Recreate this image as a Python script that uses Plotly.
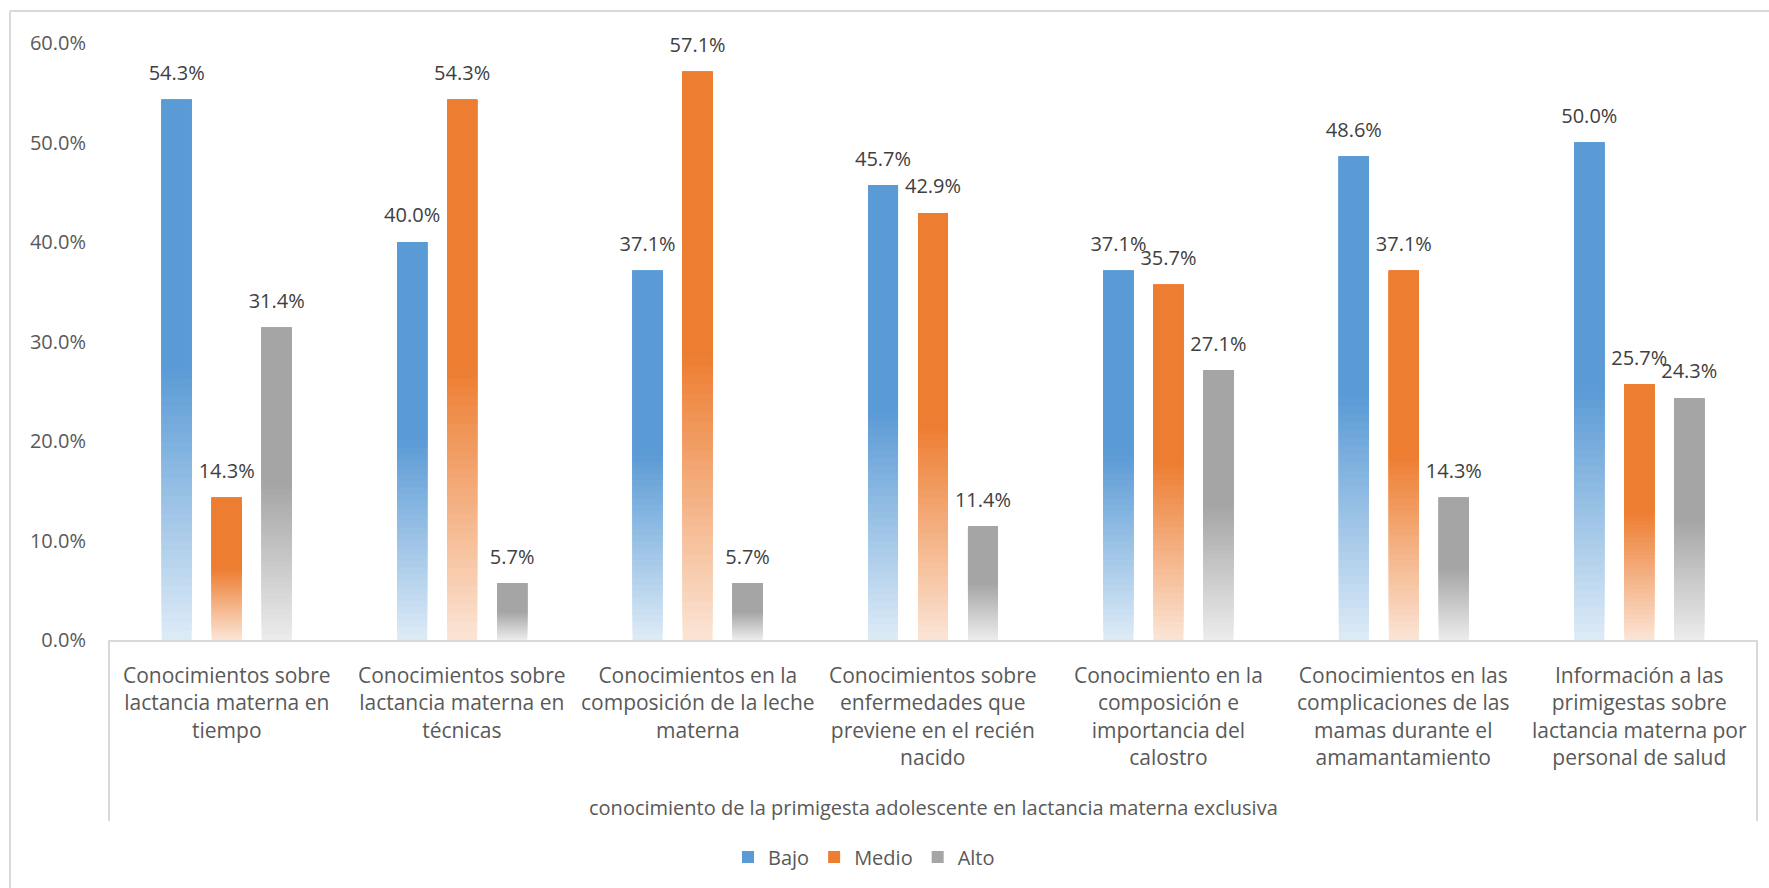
import plotly.graph_objects as go

categories = [
    "Conocimientos sobre lactancia materna en tiempo",
    "Conocimientos sobre lactancia materna en técnicas",
    "Conocimientos en la composición de la leche materna",
    "Conocimientos sobre enfermedades que previene en el recién nacido",
    "Conocimiento en la composición e importancia del calostro",
    "Conocimientos en las complicaciones de las mamas durante el amamantamiento",
    "Información a las primigestas sobre lactancia materna por personal de salud",
]
tick_labels = [
    "Conocimientos sobre<br>lactancia materna en<br>tiempo",
    "Conocimientos sobre<br>lactancia materna en<br>técnicas",
    "Conocimientos en la<br>composición de la leche<br>materna",
    "Conocimientos sobre<br>enfermedades que<br>previene en el recién<br>nacido",
    "Conocimiento en la<br>composición e<br>importancia del<br>calostro",
    "Conocimientos en las<br>complicaciones de las<br>mamas durante el<br>amamantamiento",
    "Información a las<br>primigestas sobre<br>lactancia materna por<br>personal de salud",
]
series_names = ["Bajo", "Medio", "Alto"]
bajo = [0.543, 0.400, 0.371, 0.457, 0.371, 0.486, 0.500]
medio = [0.143, 0.543, 0.571, 0.429, 0.357, 0.371, 0.257]
alto = [0.314, 0.057, 0.057, 0.114, 0.271, 0.143, 0.243]
group_title = "conocimiento de la primigesta adolescente en lactancia materna exclusiva"

solid_colors = ["#5b9bd5", "#ed7d31", "#a5a5a5"]
light_colors = ["#deebf7", "#fbe5d6", "#ececec"]

W, H = 1769, 888
L, R, T, B = 109, 1757, 43, 640
BARGAP = 0.363


def px_x(x):
    return (x - L) / (R - L)


def px_y(y):
    return (B - y) / (B - T)


def hex2rgb(h):
    h = h.lstrip("#")
    return [int(h[i:i + 2], 16) for i in (0, 2, 4)]


def mix(c1, c2, t):
    a, b = hex2rgb(c1), hex2rgb(c2)
    return "rgb(%d,%d,%d)" % tuple(round(a[i] + (b[i] - a[i]) * t) for i in range(3))


fig = go.Figure()
N = 30
for name, vals, sc, lc in zip(series_names, [bajo, medio, alto], solid_colors, light_colors):
    # gradient layers: each layer starts higher and reaches the bar top,
    # so later layers overlap earlier ones (no seams)
    for k in range(N):
        fig.add_trace(go.Bar(
            x=categories,
            y=[v - v / 2 * k / N for v in vals],
            base=[v / 2 * k / N for v in vals],
            offsetgroup=name,
            legendgroup=name,
            showlegend=False,
            marker=dict(color=mix(lc, sc, (k + 0.5) / N), line=dict(width=0)),
            hoverinfo="skip",
        ))
    # upper half: solid
    fig.add_trace(go.Bar(
        x=categories,
        y=[v / 2 for v in vals],
        base=[v / 2 for v in vals],
        offsetgroup=name,
        legendgroup=name,
        name=name,
        marker=dict(color=sc, line=dict(width=0)),
        customdata=vals,
        hovertemplate="%{x}<br>" + name + ": %{customdata:.1%}<extra></extra>",
    ))

# data labels (scatter text, grouped the same way as the bars)
for name, vals in zip(series_names, [bajo, medio, alto]):
    fig.add_trace(go.Scatter(
        x=categories,
        y=vals,
        mode="markers+text",
        marker=dict(size=22, opacity=0),
        text=["%.1f%%" % (v * 100) for v in vals],
        textposition="top center",
        textfont=dict(size=20, color="#404040", family="Open Sans"),
        offsetgroup=name,
        showlegend=False,
        hoverinfo="skip",
        cliponaxis=False,
    ))

annotations = []
for cat, lab in zip(categories, tick_labels):
    annotations.append(dict(
        x=cat, xref="x", y=px_y(659), yref="paper", yanchor="top",
        text=lab, showarrow=False, align="center",
        font=dict(size=21, color="#595959", family="Open Sans"),
    ))
annotations.append(dict(
    x=0.5, xref="paper", y=px_y(807), yref="paper", yanchor="middle",
    text=group_title, showarrow=False,
    font=dict(size=20, color="#595959", family="Open Sans"),
))

shapes = [
    dict(type="line", xref="paper", yref="paper", x0=0, x1=0, y0=0, y1=px_y(821),
         line=dict(color="#d9d9d9", width=2)),
    dict(type="line", xref="paper", yref="paper", x0=1, x1=1, y0=0, y1=px_y(821),
         line=dict(color="#d9d9d9", width=2)),
    dict(type="line", xref="paper", yref="paper", x0=px_x(10), x1=px_x(W + 5), y0=px_y(11), y1=px_y(11),
         line=dict(color="#d9d9d9", width=2)),
    dict(type="line", xref="paper", yref="paper", x0=px_x(10), x1=px_x(10), y0=px_y(11), y1=px_y(H + 5),
         line=dict(color="#d9d9d9", width=2)),
]

fig.update_layout(
    width=W, height=H,
    margin=dict(l=L, r=W - R, t=T, b=H - B),
    plot_bgcolor="white", paper_bgcolor="white",
    barmode="group", bargap=BARGAP, bargroupgap=0.4,
    scattermode="group", scattergap=BARGAP,
    font=dict(family="Open Sans", color="#595959", size=20),
    xaxis=dict(type="category", categoryorder="array", categoryarray=categories,
               showticklabels=False, showgrid=False, zeroline=False,
               showline=True, linecolor="#d9d9d9", linewidth=2, ticks=""),
    yaxis=dict(range=[0, 0.6], dtick=0.1, tickformat=".1%", showgrid=False,
               zeroline=False, showline=False, ticks="", ticklabelstandoff=22,
               tickfont=dict(size=20, color="#595959", family="Open Sans")),
    legend=dict(orientation="h", x=px_x(864), xanchor="center", y=px_y(857), yanchor="middle",
                font=dict(size=20, color="#595959", family="Open Sans"), itemwidth=30,
                traceorder="normal"),
    annotations=annotations,
    shapes=shapes,
    showlegend=True,
)

fig.write_html("out.html")
